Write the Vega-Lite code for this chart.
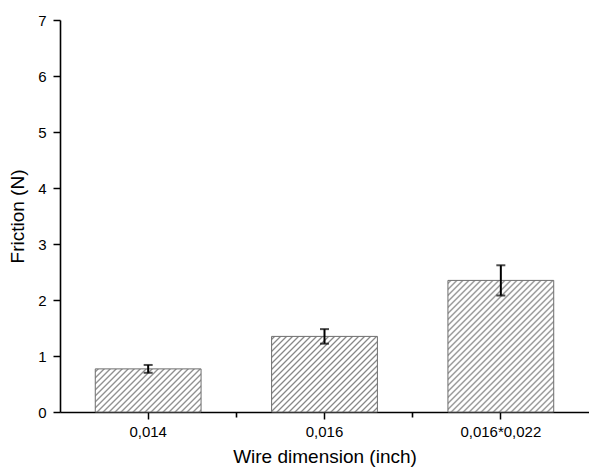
{
  "$schema": "https://vega.github.io/schema/vega-lite/v6.json",
  "autosize": "none",
  "width": 529,
  "height": 392,
  "padding": {"left": 60, "top": 20, "right": 0, "bottom": 56},
  "background": "white",
  "config": {
    "view": {"stroke": null},
    "font": "Liberation Sans",
    "axis": {"labelFont": "Liberation Sans", "titleFont": "Liberation Sans", "labelColor": "#000", "titleColor": "#000", "labelFontSize": 15, "titleFontSize": 19, "titleFontWeight": "normal", "grid": false, "domainColor": "#000", "tickColor": "#000", "domainWidth": 1.6, "tickWidth": 1.5}
  },
  "data": {
    "values": [
      {"dim": "0,014", "friction": 0.77, "lower": 0.70, "upper": 0.84},
      {"dim": "0,016", "friction": 1.35, "lower": 1.22, "upper": 1.48},
      {"dim": "0,016*0,022", "friction": 2.35, "lower": 2.08, "upper": 2.62}
    ]
  },
  "resolve": {"axis": {"x": "independent"}, "scale": {"x": "independent"}},
  "layer": [
    {
      "mark": {"type": "bar", "stroke": "#6e6e6e", "strokeWidth": 1},
      "encoding": {
        "x": {"field": "dim", "type": "nominal", "sort": null,
          "scale": {"paddingInner": 0.4, "paddingOuter": 0.2},
          "axis": {"orient": "bottom", "title": "Wire dimension (inch)", "labelAngle": 0, "tickSize": 7, "labelPadding": 5, "titlePadding": 8}},
        "y": {"field": "friction", "type": "quantitative",
          "scale": {"domain": [0, 7], "nice": false},
          "axis": {"title": "Friction (N)", "values": [0, 0.5, 1, 1.5, 2, 2.5, 3, 3.5, 4, 4.5, 5, 5.5, 6, 6.5, 7],
            "format": "d",
            "labelExpr": "datum.value % 1 ? '' : datum.label",
            "tickSize": {"condition": {"test": "datum.value % 1 !== 0", "value": 4}, "value": 7},
            "labelPadding": 7, "titlePadding": 10}},
        "fill": {
          "condition": [
            {"test": "datum.dim === '0,014'", "value": {"gradient": "linear", "x1": 0, "y1": 0, "x2": 1.9455, "y2": 0.7925, "stops": [
{"offset":0.005,"color":"#fff"},{"offset":0.0125,"color":"#888"},{"offset":0.02,"color":"#fff"},
{"offset":0.03,"color":"#fff"},{"offset":0.0375,"color":"#888"},{"offset":0.045,"color":"#fff"},
{"offset":0.055,"color":"#fff"},{"offset":0.0625,"color":"#888"},{"offset":0.07,"color":"#fff"},
{"offset":0.08,"color":"#fff"},{"offset":0.0875,"color":"#888"},{"offset":0.095,"color":"#fff"},
{"offset":0.105,"color":"#fff"},{"offset":0.1125,"color":"#888"},{"offset":0.12,"color":"#fff"},
{"offset":0.13,"color":"#fff"},{"offset":0.1375,"color":"#888"},{"offset":0.145,"color":"#fff"},
{"offset":0.155,"color":"#fff"},{"offset":0.1625,"color":"#888"},{"offset":0.17,"color":"#fff"},
{"offset":0.18,"color":"#fff"},{"offset":0.1875,"color":"#888"},{"offset":0.195,"color":"#fff"},
{"offset":0.205,"color":"#fff"},{"offset":0.2125,"color":"#888"},{"offset":0.22,"color":"#fff"},
{"offset":0.23,"color":"#fff"},{"offset":0.2375,"color":"#888"},{"offset":0.245,"color":"#fff"},
{"offset":0.255,"color":"#fff"},{"offset":0.2625,"color":"#888"},{"offset":0.27,"color":"#fff"},
{"offset":0.28,"color":"#fff"},{"offset":0.2875,"color":"#888"},{"offset":0.295,"color":"#fff"},
{"offset":0.305,"color":"#fff"},{"offset":0.3125,"color":"#888"},{"offset":0.32,"color":"#fff"},
{"offset":0.33,"color":"#fff"},{"offset":0.3375,"color":"#888"},{"offset":0.345,"color":"#fff"},
{"offset":0.355,"color":"#fff"},{"offset":0.3625,"color":"#888"},{"offset":0.37,"color":"#fff"},
{"offset":0.38,"color":"#fff"},{"offset":0.3875,"color":"#888"},{"offset":0.395,"color":"#fff"},
{"offset":0.405,"color":"#fff"},{"offset":0.4125,"color":"#888"},{"offset":0.42,"color":"#fff"},
{"offset":0.43,"color":"#fff"},{"offset":0.4375,"color":"#888"},{"offset":0.445,"color":"#fff"},
{"offset":0.455,"color":"#fff"},{"offset":0.4625,"color":"#888"},{"offset":0.47,"color":"#fff"},
{"offset":0.48,"color":"#fff"},{"offset":0.4875,"color":"#888"},{"offset":0.495,"color":"#fff"},
{"offset":0.505,"color":"#fff"},{"offset":0.5125,"color":"#888"},{"offset":0.52,"color":"#fff"},
{"offset":0.53,"color":"#fff"},{"offset":0.5375,"color":"#888"},{"offset":0.545,"color":"#fff"},
{"offset":0.555,"color":"#fff"},{"offset":0.5625,"color":"#888"},{"offset":0.57,"color":"#fff"},
{"offset":0.58,"color":"#fff"},{"offset":0.5875,"color":"#888"},{"offset":0.595,"color":"#fff"},
{"offset":0.605,"color":"#fff"},{"offset":0.6125,"color":"#888"},{"offset":0.62,"color":"#fff"},
{"offset":0.63,"color":"#fff"},{"offset":0.6375,"color":"#888"},{"offset":0.645,"color":"#fff"}
            ]}},
            {"test": "datum.dim === '0,016'", "value": {"gradient": "linear", "x1": 0, "y1": 0, "x2": 1.5017, "y2": 1.073, "stops": [
{"offset":0.005,"color":"#fff"},{"offset":0.0125,"color":"#888"},{"offset":0.02,"color":"#fff"},
{"offset":0.03,"color":"#fff"},{"offset":0.0375,"color":"#888"},{"offset":0.045,"color":"#fff"},
{"offset":0.055,"color":"#fff"},{"offset":0.0625,"color":"#888"},{"offset":0.07,"color":"#fff"},
{"offset":0.08,"color":"#fff"},{"offset":0.0875,"color":"#888"},{"offset":0.095,"color":"#fff"},
{"offset":0.105,"color":"#fff"},{"offset":0.1125,"color":"#888"},{"offset":0.12,"color":"#fff"},
{"offset":0.13,"color":"#fff"},{"offset":0.1375,"color":"#888"},{"offset":0.145,"color":"#fff"},
{"offset":0.155,"color":"#fff"},{"offset":0.1625,"color":"#888"},{"offset":0.17,"color":"#fff"},
{"offset":0.18,"color":"#fff"},{"offset":0.1875,"color":"#888"},{"offset":0.195,"color":"#fff"},
{"offset":0.205,"color":"#fff"},{"offset":0.2125,"color":"#888"},{"offset":0.22,"color":"#fff"},
{"offset":0.23,"color":"#fff"},{"offset":0.2375,"color":"#888"},{"offset":0.245,"color":"#fff"},
{"offset":0.255,"color":"#fff"},{"offset":0.2625,"color":"#888"},{"offset":0.27,"color":"#fff"},
{"offset":0.28,"color":"#fff"},{"offset":0.2875,"color":"#888"},{"offset":0.295,"color":"#fff"},
{"offset":0.305,"color":"#fff"},{"offset":0.3125,"color":"#888"},{"offset":0.32,"color":"#fff"},
{"offset":0.33,"color":"#fff"},{"offset":0.3375,"color":"#888"},{"offset":0.345,"color":"#fff"},
{"offset":0.355,"color":"#fff"},{"offset":0.3625,"color":"#888"},{"offset":0.37,"color":"#fff"},
{"offset":0.38,"color":"#fff"},{"offset":0.3875,"color":"#888"},{"offset":0.395,"color":"#fff"},
{"offset":0.405,"color":"#fff"},{"offset":0.4125,"color":"#888"},{"offset":0.42,"color":"#fff"},
{"offset":0.43,"color":"#fff"},{"offset":0.4375,"color":"#888"},{"offset":0.445,"color":"#fff"},
{"offset":0.455,"color":"#fff"},{"offset":0.4625,"color":"#888"},{"offset":0.47,"color":"#fff"},
{"offset":0.48,"color":"#fff"},{"offset":0.4875,"color":"#888"},{"offset":0.495,"color":"#fff"},
{"offset":0.505,"color":"#fff"},{"offset":0.5125,"color":"#888"},{"offset":0.52,"color":"#fff"},
{"offset":0.53,"color":"#fff"},{"offset":0.5375,"color":"#888"},{"offset":0.545,"color":"#fff"},
{"offset":0.555,"color":"#fff"},{"offset":0.5625,"color":"#888"},{"offset":0.57,"color":"#fff"},
{"offset":0.58,"color":"#fff"},{"offset":0.5875,"color":"#888"},{"offset":0.595,"color":"#fff"},
{"offset":0.605,"color":"#fff"},{"offset":0.6125,"color":"#888"},{"offset":0.62,"color":"#fff"},
{"offset":0.63,"color":"#fff"},{"offset":0.6375,"color":"#888"},{"offset":0.645,"color":"#fff"},
{"offset":0.655,"color":"#fff"},{"offset":0.6625,"color":"#888"},{"offset":0.67,"color":"#fff"},
{"offset":0.68,"color":"#fff"},{"offset":0.6875,"color":"#888"},{"offset":0.695,"color":"#fff"},
{"offset":0.705,"color":"#fff"},{"offset":0.7125,"color":"#888"},{"offset":0.72,"color":"#fff"},
{"offset":0.73,"color":"#fff"},{"offset":0.7375,"color":"#888"},{"offset":0.745,"color":"#fff"},
{"offset":0.755,"color":"#fff"},{"offset":0.7625,"color":"#888"},{"offset":0.77,"color":"#fff"}
            ]}}
          ],
          "value": {"gradient": "linear", "x1": 0, "y1": 0, "x2": 0.8905, "y2": 1.1077, "stops": [
{"offset":0.005,"color":"#fff"},{"offset":0.0125,"color":"#888"},{"offset":0.02,"color":"#fff"},
{"offset":0.03,"color":"#fff"},{"offset":0.0375,"color":"#888"},{"offset":0.045,"color":"#fff"},
{"offset":0.055,"color":"#fff"},{"offset":0.0625,"color":"#888"},{"offset":0.07,"color":"#fff"},
{"offset":0.08,"color":"#fff"},{"offset":0.0875,"color":"#888"},{"offset":0.095,"color":"#fff"},
{"offset":0.105,"color":"#fff"},{"offset":0.1125,"color":"#888"},{"offset":0.12,"color":"#fff"},
{"offset":0.13,"color":"#fff"},{"offset":0.1375,"color":"#888"},{"offset":0.145,"color":"#fff"},
{"offset":0.155,"color":"#fff"},{"offset":0.1625,"color":"#888"},{"offset":0.17,"color":"#fff"},
{"offset":0.18,"color":"#fff"},{"offset":0.1875,"color":"#888"},{"offset":0.195,"color":"#fff"},
{"offset":0.205,"color":"#fff"},{"offset":0.2125,"color":"#888"},{"offset":0.22,"color":"#fff"},
{"offset":0.23,"color":"#fff"},{"offset":0.2375,"color":"#888"},{"offset":0.245,"color":"#fff"},
{"offset":0.255,"color":"#fff"},{"offset":0.2625,"color":"#888"},{"offset":0.27,"color":"#fff"},
{"offset":0.28,"color":"#fff"},{"offset":0.2875,"color":"#888"},{"offset":0.295,"color":"#fff"},
{"offset":0.305,"color":"#fff"},{"offset":0.3125,"color":"#888"},{"offset":0.32,"color":"#fff"},
{"offset":0.33,"color":"#fff"},{"offset":0.3375,"color":"#888"},{"offset":0.345,"color":"#fff"},
{"offset":0.355,"color":"#fff"},{"offset":0.3625,"color":"#888"},{"offset":0.37,"color":"#fff"},
{"offset":0.38,"color":"#fff"},{"offset":0.3875,"color":"#888"},{"offset":0.395,"color":"#fff"},
{"offset":0.405,"color":"#fff"},{"offset":0.4125,"color":"#888"},{"offset":0.42,"color":"#fff"},
{"offset":0.43,"color":"#fff"},{"offset":0.4375,"color":"#888"},{"offset":0.445,"color":"#fff"},
{"offset":0.455,"color":"#fff"},{"offset":0.4625,"color":"#888"},{"offset":0.47,"color":"#fff"},
{"offset":0.48,"color":"#fff"},{"offset":0.4875,"color":"#888"},{"offset":0.495,"color":"#fff"},
{"offset":0.505,"color":"#fff"},{"offset":0.5125,"color":"#888"},{"offset":0.52,"color":"#fff"},
{"offset":0.53,"color":"#fff"},{"offset":0.5375,"color":"#888"},{"offset":0.545,"color":"#fff"},
{"offset":0.555,"color":"#fff"},{"offset":0.5625,"color":"#888"},{"offset":0.57,"color":"#fff"},
{"offset":0.58,"color":"#fff"},{"offset":0.5875,"color":"#888"},{"offset":0.595,"color":"#fff"},
{"offset":0.605,"color":"#fff"},{"offset":0.6125,"color":"#888"},{"offset":0.62,"color":"#fff"},
{"offset":0.63,"color":"#fff"},{"offset":0.6375,"color":"#888"},{"offset":0.645,"color":"#fff"},
{"offset":0.655,"color":"#fff"},{"offset":0.6625,"color":"#888"},{"offset":0.67,"color":"#fff"},
{"offset":0.68,"color":"#fff"},{"offset":0.6875,"color":"#888"},{"offset":0.695,"color":"#fff"},
{"offset":0.705,"color":"#fff"},{"offset":0.7125,"color":"#888"},{"offset":0.72,"color":"#fff"},
{"offset":0.73,"color":"#fff"},{"offset":0.7375,"color":"#888"},{"offset":0.745,"color":"#fff"},
{"offset":0.755,"color":"#fff"},{"offset":0.7625,"color":"#888"},{"offset":0.77,"color":"#fff"},
{"offset":0.78,"color":"#fff"},{"offset":0.7875,"color":"#888"},{"offset":0.795,"color":"#fff"},
{"offset":0.805,"color":"#fff"},{"offset":0.8125,"color":"#888"},{"offset":0.82,"color":"#fff"},
{"offset":0.83,"color":"#fff"},{"offset":0.8375,"color":"#888"},{"offset":0.845,"color":"#fff"},
{"offset":0.855,"color":"#fff"},{"offset":0.8625,"color":"#888"},{"offset":0.87,"color":"#fff"},
{"offset":0.88,"color":"#fff"},{"offset":0.8875,"color":"#888"},{"offset":0.895,"color":"#fff"},
{"offset":0.905,"color":"#fff"},{"offset":0.9125,"color":"#888"},{"offset":0.92,"color":"#fff"},
{"offset":0.93,"color":"#fff"},{"offset":0.9375,"color":"#888"},{"offset":0.945,"color":"#fff"},
{"offset":0.955,"color":"#fff"},{"offset":0.9625,"color":"#888"},{"offset":0.97,"color":"#fff"},
{"offset":0.98,"color":"#fff"},{"offset":0.9875,"color":"#888"},{"offset":0.995,"color":"#fff"}
          ]}
        }
      }
    },
    {
      "mark": {"type": "errorbar", "ticks": {"size": 9, "thickness": 2}, "rule": {"strokeWidth": 2}, "color": "#000"},
      "encoding": {
        "x": {"field": "dim", "type": "nominal", "sort": null,
          "scale": {"type": "band", "paddingInner": 0, "paddingOuter": 0}, "axis": null},
        "y": {"field": "lower", "type": "quantitative",
          "axis": {"title": "Friction (N)", "values": [0, 0.5, 1, 1.5, 2, 2.5, 3, 3.5, 4, 4.5, 5, 5.5, 6, 6.5, 7],
            "format": "d",
            "labelExpr": "datum.value % 1 ? '' : datum.label",
            "tickSize": {"condition": {"test": "datum.value % 1 !== 0", "value": 4}, "value": 7},
            "labelPadding": 7, "titlePadding": 10}},
        "y2": {"field": "upper"}
      }
    },
    {
      "mark": {"type": "bar", "opacity": 0},
      "encoding": {
        "x": {"field": "dim", "type": "nominal", "sort": null,
          "scale": {"type": "band", "paddingInner": 0, "paddingOuter": 0},
          "axis": {"orient": "bottom", "title": null, "labels": false, "domain": false, "values": ["0,016", "0,016*0,022"], "bandPosition": 0, "tickSize": 5, "tickWidth": 1.6}}
      }
    }
  ]
}
